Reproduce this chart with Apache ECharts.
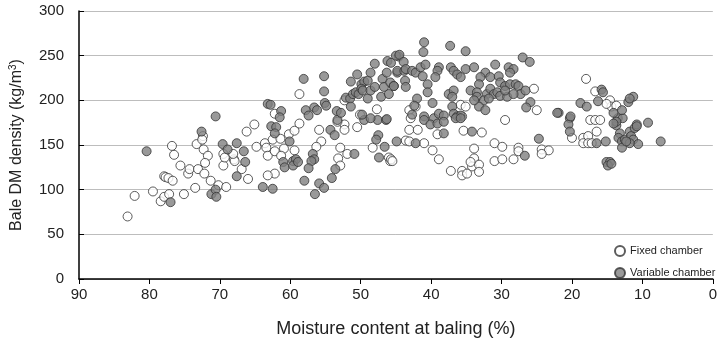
<!DOCTYPE html>
<html>
<head>
<meta charset="utf-8">
<script src="https://cdn.jsdelivr.net/npm/echarts@6/dist/echarts.min.js"></script>
<style>
  html, body { margin: 0; padding: 0; background: #fff; }
  #chart { width: 720px; height: 343px; }
</style>
</head>
<body>
<div id="chart"></div>
<script>
// Moisture content at baling (%) vs bale dry-matter density (kg/m3)
const xTicks = [0, 10, 20, 30, 40, 50, 60, 70, 80, 90];
const yTicks = [0, 50, 100, 150, 200, 250, 300];

// Fixed chamber balers: [moisture %, density kg/m3]
const fixedChamber = [
  [83.1,70],[82.1,93],[79.5,98],[78.4,87],[77.9,92],[77.2,95],[76.8,149],[76.5,139],
  [77.9,115],[77.7,114],[77.3,113],[76.7,110],[75.1,95],[75.6,127],[74.5,118],[74.3,123],
  [73.5,102],[73.1,123],[73.3,151],[72.4,160],[72.5,156],[72.3,145],[71.7,138],[72.1,130],
  [72.2,118],[71.3,110],[70.2,105],[69.1,103],[69.5,127],[69.5,140],[69.3,136],[68,134],
  [65.1,173],[66.2,165],[67.9,132],[68.1,140],[66.9,123],[66.0,112],[64.8,148],[63.6,152],
  [63.4,147],[63.2,138],[62.2,143],[62.5,156],[61.4,157],[60.2,162],[59.4,166],[58.7,174],
  [60.9,146],[59.4,144],[61.3,138],[62.2,118],[63.2,116],[55.9,167],[55.6,154],[56.3,148],
  [52.3,173],[52.3,167],[53.3,176],[52.9,147],[53.2,135],[52.9,127],[51.9,140],[50.5,170],
  [48.3,147],[46,136],[45.8,132],[58.7,207],[62.2,185],[52.3,200],[47.7,190],[50.1,184],
  [43.1,189],[42.9,180],[42.2,193],[35.8,195],[35.1,193],[35.6,182],[29.5,178],[25.4,213],
  [25,189],[45.7,134],[45.5,132],[43.6,155],[43.1,154],[41,152],[39.8,144],[38.9,134],
  [43.1,167],[41.9,167],[39.1,162],[35.4,166],[32.8,164],[33.9,146],[33.9,135],[34.2,126],
  [33.2,128],[34.4,131],[35.6,121],[35.6,116],[34.9,118],[33.2,120],[37.2,121],[31,152],
  [29.9,148],[31,132],[29.9,134],[28.3,134],[27.6,147],[27.6,143],[24.3,145],[23.3,144],
  [24.3,140],[20,158],[18.4,158],[17.7,160],[16.5,165],[18.4,152],[17.7,152],[17.2,152],
  [17.4,178],[16.7,178],[16,178],[18,224],[16.7,210],[14.6,200],[14.4,193],[13.7,194],
  [15.1,196]
];

// Variable chamber balers: [moisture %, density kg/m3]
const variableChamber = [
  [80.4,143],[77,86],[72.6,165],[70.6,182],[71.2,95],[70.6,100],[70.5,92],[69.6,151],
  [68.9,145],[67.6,152],[67.6,115],[62.7,171],[62,170],[62.2,163],[66.6,143],[66.4,131],
  [60.1,154],[61,131],[60.8,125],[59.6,132],[59.2,134],[59.6,127],[58.9,131],[63.9,103],
  [62.5,101],[58,110],[55.9,107],[55.2,102],[56.5,95],[56.8,140],[56.6,134],[57,132],
  [57.4,124],[54.3,167],[53.7,161],[53.3,178],[50.9,140],[53.6,123],[54.1,113],[49.5,178],
  [47.6,178],[46.4,178],[47.5,161],[47.8,156],[46.6,148],[47.4,136],[44.9,154],
  [58.1,224],[55.2,227],[55.2,210],[63.2,196],[62.8,195],[61.3,188],[61.5,181],[57.8,189],
  [57.4,183],[56.6,192],[56.2,189],[55.1,197],[54.9,194],[53.4,188],[52.8,186],[52.1,203],
  [51.5,202],[51.4,193],[51.1,207],[50.7,209],[50.3,207],[51.4,221],[50.5,229],[49.9,218],
  [49.5,221],[49,222],[49.9,213],[49.7,211],[49,202],[48.6,211],[48.6,231],[48,241],
  [48,215],[47.1,204],[46.9,224],[46.7,215],[46.2,244],[46.3,231],[45.8,220],[46,207],
  [45.3,216],[44.8,231],[44.6,249],[46.3,179],[49.8,184],[48.6,180],
  [41,265],[41.1,254],[37.3,261],[35.1,255],[45,250],[44.5,251],[43.9,243],[44.8,233],
  [43.8,233],[43.6,235],[43.7,222],[43.6,215],[45.3,216],[45.7,242],[42.7,233],[42.2,231],
  [41.5,237],[40.8,240],[41.2,227],[40.5,218],[40.5,209],[38.9,237],[39.1,233],[39.4,226],
  [37.2,237],[36.8,233],[36.3,229],[35.8,226],[35.1,235],[33.9,237],[37.5,207],[36.8,211],
  [37,204],[30.9,240],[32.3,231],[33,226],[31.6,226],[33.2,218],[30.4,227],[29,237],
  [28.3,235],[28.8,231],[30.2,220],[29.5,216],[27,248],[26,243],[34.4,211],[33.5,209],
  [33.5,204],[32.1,207],[31.6,213],[31.1,207],[32.5,200],[31.8,202],[30.6,209],[30.2,205],
  [29.2,204],[28.8,218],[28,218],[27.6,216],[27.3,207],[26.6,211],[29.5,211],[28.3,207],
  [33.2,193],[32.3,189],[33.9,200],[25.9,198],[26.5,192],[21.9,186],[39.8,197],[42,202],
  [42.4,194],[42.7,184],[41,182],[39.6,180],[38.9,185],[38.2,183],[37,193],[36.8,185],
  [36.3,182],[35.8,183],[42.2,152],[41,178],[40.1,173],[39.1,174],[38.2,176],[38.2,163],
  [36.5,180],[35.8,180],[34.2,165],[26.7,138],[24.7,157],
  [20.3,180],[20.5,173],[20.3,165],[16.5,152],[15.2,154],[13.7,172],[13.2,163],[13.4,158],
  [12.9,154],[12.9,147],[12.5,156],[11.8,165],[11.6,160],[11.3,156],[11.1,169],[10.8,173],
  [10.6,151],[11.8,152],[12.3,154],[9.2,175],[7.4,154],[15.1,131],[14.6,131],[14.9,127],
  [14.4,129],[13.5,180],[12.8,180],[15.8,212],[15.6,209],[18.8,197],[17.9,193],[16.3,199],
  [12,198],[11.3,204],[11.8,202],[22.1,186],[20.2,182],[14.1,186],[12.9,189],[13.7,176],
  [14.1,174],[10.8,171]
];

const font = 'Liberation Sans, Arial, sans-serif';
const chart = echarts.init(document.getElementById('chart'), null, { renderer: 'canvas' });

chart.setOption({
  animation: false,
  backgroundColor: '#ffffff',
  grid: { left: 77, right: 7, top: 11, bottom: 59, containLabel: false },
  legend: {
    orient: 'vertical',
    left: 609,
    top: 240,
    itemGap: 10,
    itemWidth: 10,
    itemHeight: 10,
    icon: 'circle',
    textStyle: { fontFamily: font, fontSize: 11, color: '#222' },
    data: ['Fixed chamber', 'Variable chamber']
  },
  xAxis: {
    type: 'value',
    inverse: true,
    min: xTicks[0],
    max: xTicks[xTicks.length - 1],
    interval: 10,
    name: 'Moisture content at baling (%)',
    nameLocation: 'middle',
    nameGap: 41,
    nameTextStyle: { fontFamily: font, fontSize: 18, color: '#222' },
    axisLine: { show: true, onZero: false, lineStyle: { color: '#000', width: 1.5 } },
    axisTick: { show: true, inside: false, length: 5, lineStyle: { color: '#000' } },
    axisLabel: { fontFamily: font, fontSize: 15, color: '#222', margin: 8 },
    splitLine: { show: false }
  },
  yAxis: {
    type: 'value',
    position: 'left',
    min: yTicks[0],
    max: yTicks[yTicks.length - 1],
    interval: 50,
    name: 'Bale DM density (kg/m{sup|3})',
    nameLocation: 'middle',
    nameGap: 53,
    nameTextStyle: {
      fontFamily: font, fontSize: 16, color: '#222',
      rich: { sup: { fontFamily: font, fontSize: 10, color: '#222', padding: [0, 0, 8, 0] } }
    },
    axisLine: { show: true, onZero: false, lineStyle: { color: '#000', width: 1.5 } },
    axisTick: { show: true, inside: true, length: 5, lineStyle: { color: '#000' } },
    axisLabel: { fontFamily: font, fontSize: 15, color: '#222', margin: 15 },
    splitLine: { show: true, lineStyle: { color: '#bdbdbd', width: 1 } }
  },
  series: [
    {
      name: 'Fixed chamber',
      type: 'scatter',
      symbol: 'circle',
      symbolSize: 9,
      itemStyle: { color: '#ffffff', borderColor: '#333333', borderWidth: 1 },
      data: fixedChamber
    },
    {
      name: 'Variable chamber',
      type: 'scatter',
      symbol: 'circle',
      symbolSize: 9,
      itemStyle: { color: '#7f7f7f', borderColor: '#333333', borderWidth: 1 },
      data: variableChamber
    }
  ]
});
</script>
</body>
</html>
